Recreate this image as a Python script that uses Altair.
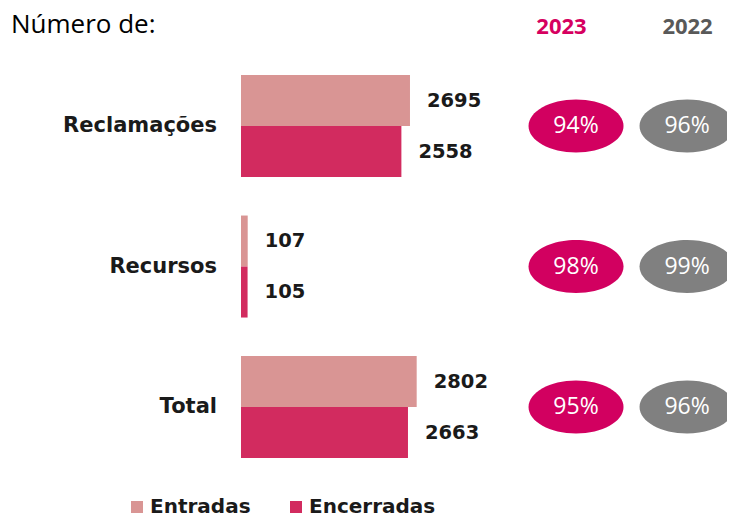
import altair as alt
import pandas as pd

categories = ["Reclamações", "Recursos", "Total"]
series_names = ["Entradas", "Encerradas"]
entradas = [2695, 107, 2802]
encerradas = [2558, 105, 2663]
years = [2023, 2022]
pct_2023 = [94, 98, 95]
pct_2022 = [96, 99, 96]

series_colors = ["#D99594", "#D22B5F"]
year_colors = ["#D20060", "#808080"]

W, H = 719, 509

bars_df = pd.DataFrame({
    "category": categories * 2,
    "series": [series_names[0]] * 3 + [series_names[1]] * 3,
    "value": entradas + encerradas,
})
cat_df = pd.DataFrame({"category": categories})
ell_df = pd.DataFrame({
    "category": categories * 2,
    "year": [years[0]] * 3 + [years[1]] * 3,
    "pct": pct_2023 + pct_2022,
})
ell_df["label"] = ell_df["pct"].astype(str) + "%"

y_enc = alt.Y("category:N", sort=categories,
              scale=alt.Scale(paddingInner=0.274, paddingOuter=0.4485, align=0.532),
              axis=None)
yoff = alt.YOffset("series:N", sort=series_names,
                   scale=alt.Scale(paddingInner=0, paddingOuter=0))
x_bar = alt.X("value:Q", scale=alt.Scale(domain=[-3716, 7751], nice=False, zero=False), axis=None)

bars = alt.Chart(bars_df).mark_bar(stroke=None).encode(
    x=x_bar,
    x2=alt.datum(0),
    y=y_enc,
    yOffset=yoff,
    color=alt.Color("series:N", sort=series_names,
                    scale=alt.Scale(domain=series_names, range=series_colors),
                    legend=alt.Legend(orient="none", legendX=119, legendY=489, padding=0,
                                      direction="horizontal", title=None,
                                      symbolType="square", symbolSize=144,
                                      symbolStrokeWidth=0, labelOffset=3,
                                      columnPadding=35,
                                      labelFont="DejaVu Sans", labelFontWeight="bold",
                                      labelFontSize=20, labelColor="#1a1a1a")),
)

values = alt.Chart(bars_df).mark_text(
    align="left", baseline="middle", dx=17,
    font="DejaVu Sans", fontWeight="bold", fontSize=19.5, color="#1a1a1a",
).encode(x=x_bar, y=y_enc, yOffset=yoff, text="value:Q")

cat_labels = alt.Chart(cat_df).mark_text(
    align="right", baseline="middle", dx=-24,
    font="DejaVu Sans", fontWeight="bold", fontSize=21, color="#1a1a1a",
).encode(x=alt.datum(0), y=y_enc, text="category:N")

left = alt.layer(bars, values, cat_labels)

x_year = alt.X("year:Q",
               scale=alt.Scale(domain=[2028.117, 2021.640], nice=False, zero=False),
               axis=alt.Axis(orient="top", title=None, domain=False, ticks=False,
                             grid=False, labelAngle=0, labelPadding=0, offset=-25,
                             values=years, format="d", labelFlush=False,
                             labelBaseline="alphabetic", labelFont="Open Sans",
                             labelFontSize=22, labelFontWeight="bold",
                             labelColor=alt.expr("datum.value == 2023 ? '#D6005F' : '#595959'"),
                             labelOffset=alt.expr("datum.value == 2023 ? -15 : 0")))

ellipse_path = ("M -1 0 C -1 -0.308 -0.552 -0.558 0 -0.558 "
                "C 0.552 -0.558 1 -0.308 1 0 "
                "C 1 0.308 0.552 0.558 0 0.558 "
                "C -0.552 0.558 -1 0.308 -1 0 Z")

ellipses = alt.Chart(ell_df).mark_point(
    shape=ellipse_path, filled=True, size=9025, opacity=1, strokeWidth=0,
).encode(
    x=x_year, y=y_enc,
    fill=alt.Fill("year:N", scale=alt.Scale(domain=years, range=year_colors), legend=None),
)

pct_text = alt.Chart(ell_df).mark_text(
    align="center", baseline="middle", font="Open Sans", fontSize=23, color="white",
).encode(x=x_year, y=y_enc, text="label:N")

right = alt.layer(ellipses, pct_text)

chart = alt.layer(left, right).resolve_scale(x="independent").properties(
    width=W, height=H,
    autosize=alt.AutoSizeParams(type="none"),
    padding=0,
    title=alt.TitleParams(text="Número de:", anchor="start", frame="group", orient="top",
                          offset=-51, dx=3, baseline="alphabetic",
                          font="Open Sans", fontSize=26, fontWeight="normal", color="#000000"),
).configure_view(stroke=None)

chart.save("out.html", embed_options={"renderer": "svg", "actions": False})
